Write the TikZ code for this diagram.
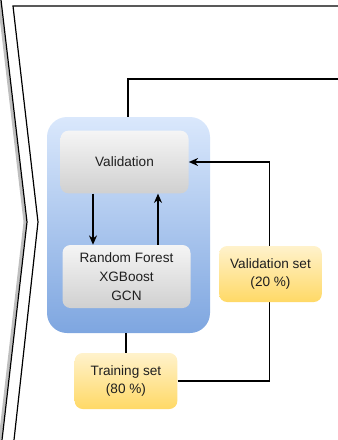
\documentclass[tikz,border=0pt]{standalone}
\usepackage{fontspec}
\setmainfont{Liberation Sans}
\usetikzlibrary{arrows.meta}
\definecolor{txt}{HTML}{1F1F1F}
\definecolor{blueTop}{HTML}{DAE8FC}
\definecolor{blueBot}{HTML}{7EA6E0}
\definecolor{grayTop}{HTML}{F5F5F5}
\definecolor{grayBot}{HTML}{D0D0D0}
\definecolor{yelTop}{HTML}{FFF2CC}
\definecolor{yelBot}{HTML}{FFD966}
\tikzset{
  lbl/.style={font=\fontsize{10.2}{14.2}\selectfont, text=txt, align=center, inner sep=0pt},
  panel/.style={rounded corners=15pt, top color=blueTop, bottom color=blueBot, draw=none,
    minimum width=122.25pt, minimum height=162pt},
  graybox/.style={lbl, rounded corners=6pt, top color=grayTop, bottom color=grayBot, draw=none,
    minimum width=96pt, minimum height=47pt},
  yelbox/.style={lbl, rounded corners=6pt, top color=yelTop, bottom color=yelBot, draw=none,
    minimum width=77pt, minimum height=42pt},
  wire/.style={line width=1pt, draw=black},
  arrow/.style={wire, -{Stealth[length=7pt,width=6pt]}}
}
\begin{document}
\begin{tikzpicture}[x=0.75pt,y=-0.75pt]
\useasboundingbox (0,0) rectangle (338,440);

% frame edge on the left (double chevron) and top rule
\draw[line width=2.2pt, black!25] (-1,0) -- (25,222) -- (0,440);
\draw[line width=0.9pt] (1,0) -- (27,222) -- (2,440);
\draw[line width=0.9pt] (338,6) -- (13,6) -- (38,222) -- (14,440);

% model panel
\node[panel] (panel) at (128.5,225) {};
\node[graybox] (val) at (124.5,162) {Validation};
\node[graybox, minimum height=63*0.75pt] (rf) at (126.5,276.5) {Random Forest\\XGBoost\\GCN};

% data splits
\node[yelbox] (train) at (126,381) {Training set\\(80 \%)};
\coordinate (out) at (338,79);
\coordinate (dn) at (93,0);
\coordinate (up) at (158,0);
\coordinate (ret) at (269.5,0);

% connectors
\draw[wire] (panel.north -| 128,0) |- (out);
\draw[wire] (train.north) -- (train.north |- panel.south);
\draw[arrow] (val.south -| dn) -- (rf.north -| dn);
\draw[arrow] (rf.north -| up) -- (val.south -| up);
\draw[arrow] (train.east) -| (ret |- val.east) -- (val.east);

\node[yelbox] (vset) at (270.5,274) {Validation set\\(20 \%)};
\end{tikzpicture}
\end{document}
